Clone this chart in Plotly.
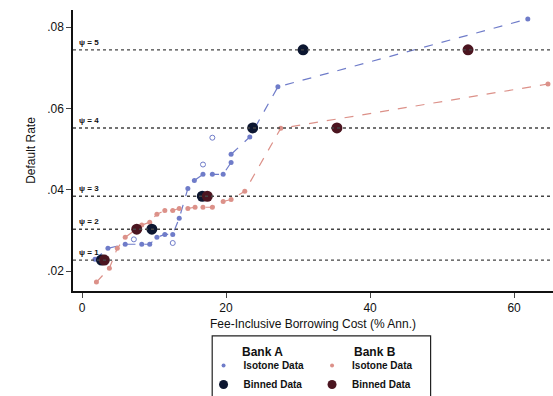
import plotly.graph_objects as go

# ---- data ----
a_iso_x = [1.8, 3.6, 6.0, 8.3, 9.4, 10.4, 11.5, 12.6, 13.5, 14.7, 15.6, 16.8, 18.1, 19.6, 20.7, 20.7, 23.3, 27.2, 61.9]
a_iso_y = [0.0229, 0.0256, 0.0266, 0.0266, 0.0266, 0.0283, 0.0290, 0.0290, 0.0330, 0.0403, 0.0423, 0.0438, 0.0438, 0.0438, 0.0467, 0.0487, 0.0530, 0.0653, 0.0820]
a_open_x = [7.2, 12.6, 16.8, 18.1]
a_open_y = [0.0278, 0.0269, 0.0462, 0.0528]

b_iso_x = [2.0, 3.8, 4.9, 6.0, 8.3, 9.4, 10.4, 11.5, 12.6, 13.5, 14.7, 15.7, 16.8, 18.1, 19.6, 20.7, 22.6, 27.6, 64.7]
b_iso_y = [0.0173, 0.0207, 0.0256, 0.0283, 0.0313, 0.0320, 0.0340, 0.0349, 0.0349, 0.0354, 0.0354, 0.0357, 0.0357, 0.0357, 0.0371, 0.0376, 0.0396, 0.0551, 0.0660]

psi_levels = [0.0227, 0.0303, 0.0384, 0.0552, 0.0744]
psi_labels = ["ψ = 1", "ψ = 2", "ψ = 3", "ψ = 4", "ψ = 5"]

a_bin_x = [2.7, 9.7, 16.7, 23.7, 30.7]
b_bin_x = [3.1, 7.6, 17.4, 35.4, 53.6]

x_ticks = [0, 20, 40, 60]
y_ticks = [0.02, 0.04, 0.06, 0.08]
y_ticktext = [".02", ".04", ".06", ".08"]

col_a = "#6f7cc9"
col_b = "#dc9189"
col_a_bin = "#0c1630"
col_b_bin = "#4b1520"

FONT = "Arial, Liberation Sans, sans-serif"

fig = go.Figure()

# psi reference lines
for lv in psi_levels:
    fig.add_shape(type="line", xref="paper", yref="y", x0=0.0, x1=1.0, y0=lv, y1=lv,
                  line=dict(color="#444444", width=1.4, dash="dot"))
for lv, lab in zip(psi_levels, psi_labels):
    fig.add_annotation(xref="paper", yref="y", x=0.008, y=lv, text="<b>" + lab + "</b>",
                       showarrow=False, xanchor="left", yanchor="bottom",
                       font=dict(family=FONT, size=8, color="#111111"), yshift=1)

# isotone lines (no legend)
fig.add_trace(go.Scatter(x=a_iso_x, y=a_iso_y, mode="lines+markers",
                         line=dict(color=col_a, width=1.2, dash="dash"),
                         marker=dict(color=col_a, size=5), showlegend=False))
fig.add_trace(go.Scatter(x=b_iso_x, y=b_iso_y, mode="lines+markers",
                         line=dict(color=col_b, width=1.2, dash="dash"),
                         marker=dict(color=col_b, size=5), showlegend=False))
fig.add_trace(go.Scatter(x=a_open_x, y=a_open_y, mode="markers",
                         marker=dict(color=col_a, size=5, symbol="circle-open", line=dict(width=1)),
                         showlegend=False))

# binned points
fig.add_trace(go.Scatter(x=a_bin_x, y=psi_levels, mode="markers",
                         marker=dict(color=col_a_bin, size=11), showlegend=False))
fig.add_trace(go.Scatter(x=b_bin_x, y=psi_levels, mode="markers",
                         marker=dict(color=col_b_bin, size=11), showlegend=False))

# legend entries
fig.add_trace(go.Scatter(x=[None], y=[None], mode="markers", name="<b>Isotone Data</b>",
                         marker=dict(color=col_a, size=4), legend="legend"))
fig.add_trace(go.Scatter(x=[None], y=[None], mode="markers", name="<b>Binned Data</b>",
                         marker=dict(color=col_a_bin, size=9), legend="legend"))
fig.add_trace(go.Scatter(x=[None], y=[None], mode="markers", name="<b>Isotone Data</b>",
                         marker=dict(color=col_b, size=4), legend="legend2"))
fig.add_trace(go.Scatter(x=[None], y=[None], mode="markers", name="<b>Binned Data</b>",
                         marker=dict(color=col_b_bin, size=9), legend="legend2"))

# legend box and group titles
fig.add_shape(type="rect", xref="paper", yref="paper", x0=0.29, x1=0.745, y0=-0.40, y1=-0.16,
              line=dict(color="#222222", width=1.2), fillcolor="rgba(0,0,0,0)")
fig.add_annotation(xref="paper", yref="paper", x=0.394, y=-0.218, text="<b>Bank A</b>",
                   showarrow=False, xanchor="center", yanchor="middle",
                   font=dict(family=FONT, size=12, color="#111111"))
fig.add_annotation(xref="paper", yref="paper", x=0.629, y=-0.218, text="<b>Bank B</b>",
                   showarrow=False, xanchor="center", yanchor="middle",
                   font=dict(family=FONT, size=12, color="#111111"))

leg_common = dict(yanchor="top", xanchor="left", bgcolor="rgba(0,0,0,0)", yref="container",
                  font=dict(family=FONT, size=10, color="#111111"),
                  tracegroupgap=0, itemwidth=30)
fig.update_layout(
    legend=dict(x=0.272, y=0.1136, **leg_common),
    legend2=dict(x=0.498, y=0.1136, **leg_common),
)

fig.update_xaxes(range=[-1.25, 65.4], tickvals=x_ticks, ticks="outside", ticklen=5,
                 showline=True, linecolor="#111111", linewidth=1.5, showgrid=False, zeroline=False,
                 tickfont=dict(family=FONT, size=12, color="#111111"),
                 title=dict(text="Fee-Inclusive Borrowing Cost (% Ann.)", standoff=5,
                            font=dict(family=FONT, size=12, color="#111111")))
fig.update_yaxes(range=[0.0151, 0.0842], tickvals=y_ticks, ticktext=y_ticktext, ticks="outside",
                 ticklen=5, showline=True, linecolor="#111111", linewidth=1.5, showgrid=False,
                 zeroline=False, tickfont=dict(family=FONT, size=12, color="#111111"),
                 title=dict(text="Default Rate", standoff=9,
                            font=dict(family=FONT, size=12, color="#111111")))

fig.update_layout(width=553, height=396, margin=dict(l=73, r=0, t=10, b=105),
                  plot_bgcolor="white", paper_bgcolor="white", font=dict(family=FONT))

fig.write_html("out.html")
